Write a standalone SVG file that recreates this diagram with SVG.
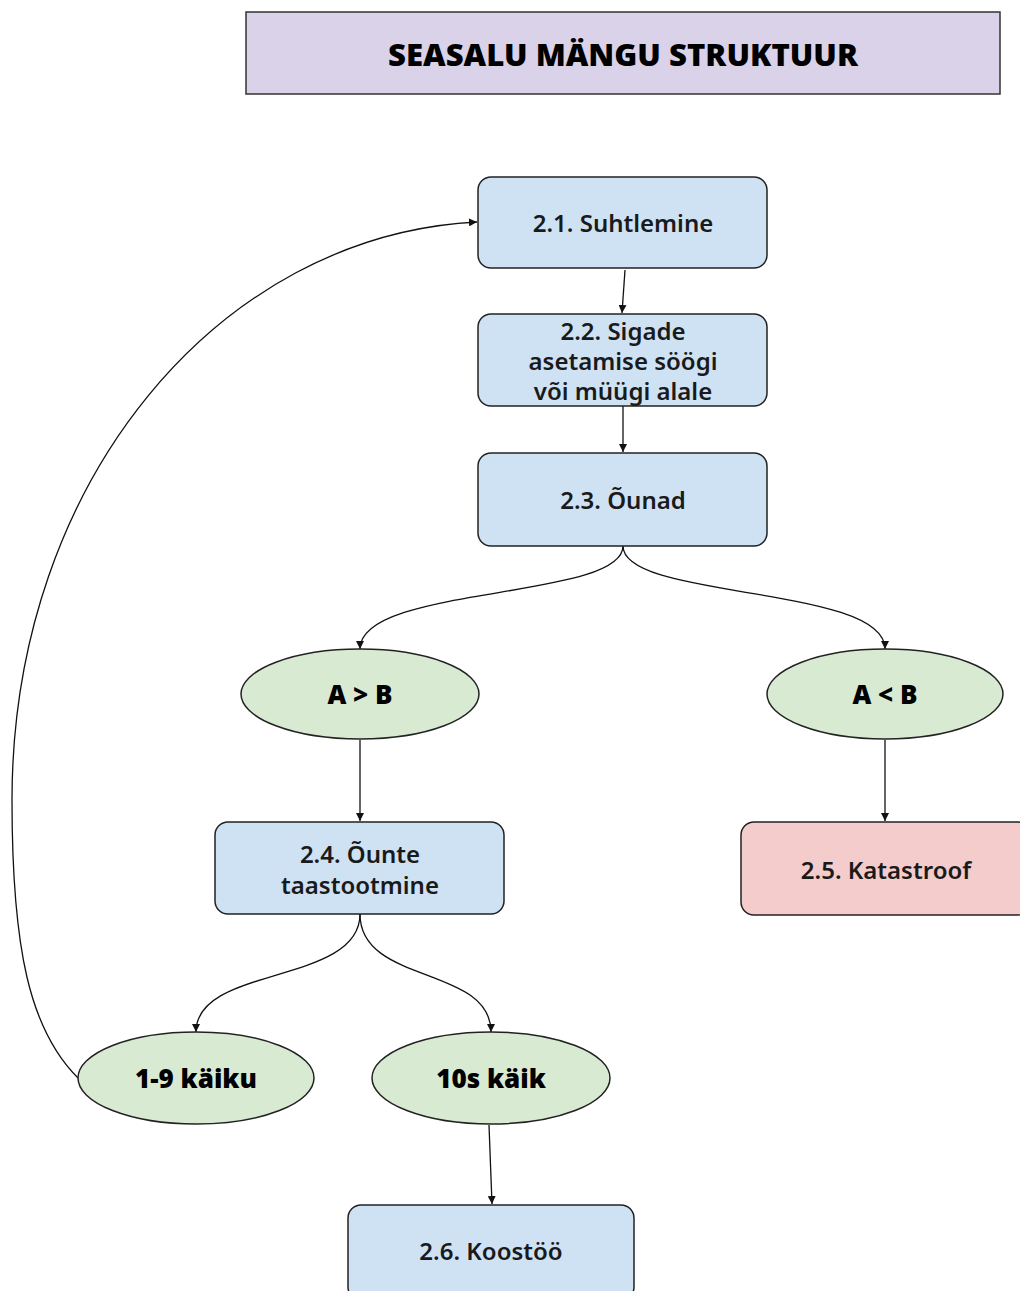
<svg xmlns="http://www.w3.org/2000/svg" width="1020" height="1291" viewBox="0 0 1020 1291">
<style>
.box{fill:#cfe2f3;stroke:#222;stroke-width:1.5}
.red{fill:#f4cccc;stroke:#222;stroke-width:1.5}
.ell{fill:#d9ead3;stroke:#222;stroke-width:1.5}
.t{font-family:"Noto Sans","Liberation Sans",sans-serif;font-size:24px;font-weight:600;fill:#1a1a1a;text-anchor:middle;dominant-baseline:central}
.b{font-family:"Noto Sans","Liberation Sans",sans-serif;font-size:26px;font-weight:900;fill:#000;text-anchor:middle;dominant-baseline:central}
.c{fill:none;stroke:#111;stroke-width:1.3;marker-end:url(#ah)}
</style>
<defs>
<marker id="ah" viewBox="0 0 10 10" refX="10" refY="5" markerWidth="8" markerHeight="8" markerUnits="userSpaceOnUse" orient="auto">
<path d="M0,0 L10,5 L0,10 z" fill="#111"/>
</marker>
</defs>
<rect width="1020" height="1291" fill="#fff"/>
<g id="title">
<rect x="246" y="12" width="754" height="82" fill="#d9d2e9" stroke="#333" stroke-width="1.5"/>
<text x="623" y="54" font-family="Noto Sans, Liberation Sans, sans-serif" font-size="30" font-weight="900" text-anchor="middle" dominant-baseline="central" fill="#000" textLength="470" lengthAdjust="spacingAndGlyphs">SEASALU MÄNGU STRUKTUUR</text>
</g>
<g id="connectors">
<path class="c" d="M625,270 L622,313"/>
<path class="c" d="M623,406 L623,452"/>
<path class="c" d="M623,546 C623,600 360,585 360,649"/>
<path class="c" d="M623,546 C623,600 885,585 885,649"/>
<path class="c" d="M360,740 L360,821"/>
<path class="c" d="M885,740 L885,821"/>
<path class="c" d="M360,914 C360,985 196,965 196,1032"/>
<path class="c" d="M360,914 C360,985 491,965 491,1032"/>
<path class="c" d="M489,1125 L492,1204"/>
<path class="c" d="M78,1078 C30,1030 12,950 12,800 C12,480 220,235 477,222"/>
</g>
<g id="n21"><rect class="box" x="478" y="177" width="289" height="91" rx="13"/><text class="t" x="623" y="222">2.1. Suhtlemine</text></g>
<g id="n22"><rect class="box" x="478" y="314" width="289" height="92" rx="13"/><text class="t" x="623" y="330">2.2. Sigade</text><text class="t" x="623" y="360">asetamise söögi</text><text class="t" x="623" y="390">või müügi alale</text></g>
<g id="n23"><rect class="box" x="478" y="453" width="289" height="93" rx="13"/><text class="t" x="623" y="499">2.3. Õunad</text></g>
<g id="eAB"><ellipse class="ell" cx="360" cy="694" rx="119" ry="45"/><text class="b" x="360" y="694">A &gt; B</text></g>
<g id="eBA"><ellipse class="ell" cx="885" cy="694" rx="118" ry="45"/><text class="b" x="885" y="694">A &lt; B</text></g>
<g id="n24"><rect class="box" x="215" y="822" width="289" height="92" rx="13"/><text class="t" x="360" y="853">2.4. Õunte</text><text class="t" x="360" y="884">taastootmine</text></g>
<g id="n25"><rect class="red" x="741" y="822" width="290" height="93" rx="13"/><text class="t" x="886" y="869">2.5. Katastroof</text></g>
<g id="e19"><ellipse class="ell" cx="196" cy="1078" rx="118" ry="46"/><text class="b" x="196" y="1078">1-9 käiku</text></g>
<g id="e10"><ellipse class="ell" cx="491" cy="1078" rx="119" ry="46"/><text class="b" x="491" y="1078">10s käik</text></g>
<g id="n26"><rect class="box" x="348" y="1205" width="286" height="95" rx="13"/><text class="t" x="491" y="1250">2.6. Koostöö</text></g>
</svg>
